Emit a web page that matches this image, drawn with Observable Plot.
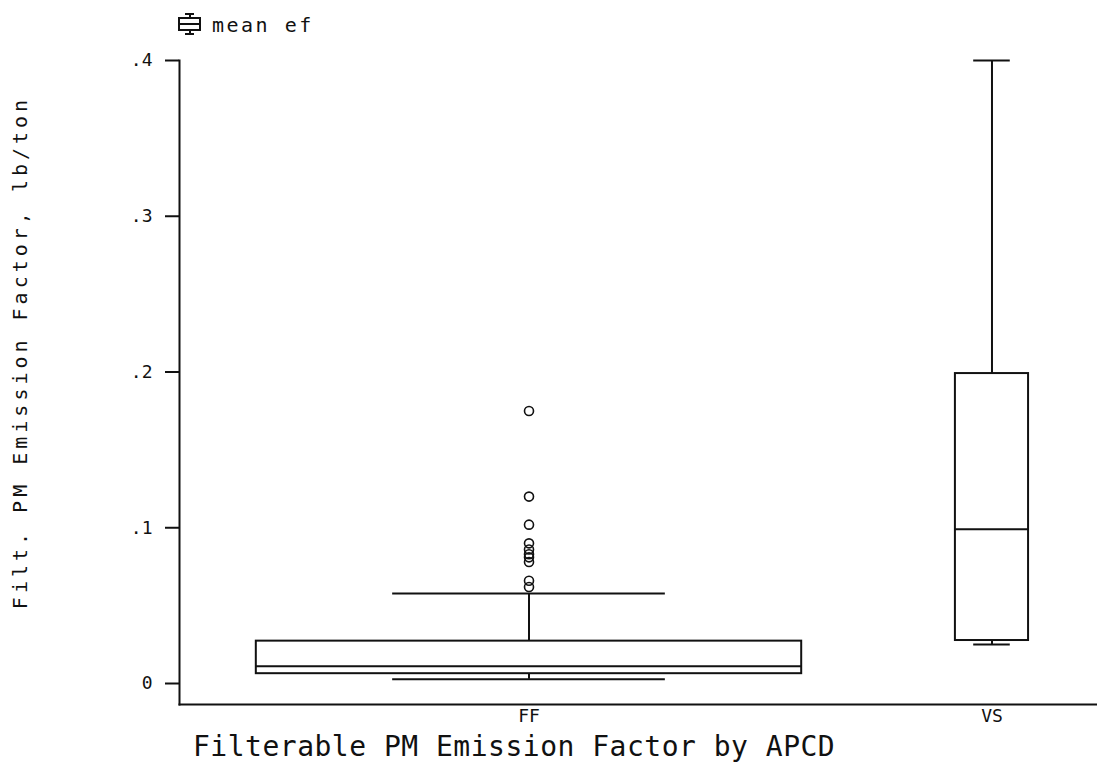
<!DOCTYPE html>
<html>
<head>
<meta charset="utf-8">
<script src="https://cdn.jsdelivr.net/npm/d3@7"></script>
<script src="https://cdn.jsdelivr.net/npm/@observablehq/plot@0.6"></script>
<style>
  html, body { margin: 0; padding: 0; background: #fff; }
  #wrap { position: relative; width: 1097px; height: 772px; font-family: "DejaVu Sans Mono", monospace; color: #111; }
  #legend { position: absolute; left: 178px; top: 12px; height: 26px; display: flex; align-items: flex-start; }
  #legend span { position: absolute; left: 34px; top: 3px; font-size: 20px; line-height: 20px; letter-spacing: 2.5px; white-space: nowrap; }
  #chart { position: absolute; left: 0; top: 45px; }
  #chart svg { overflow: visible; }
  #title { position: absolute; left: 193px; top: 733px; font-size: 28px; line-height: 28px; letter-spacing: 0.5px; white-space: nowrap; }
</style>
</head>
<body>
<div id="wrap">
  <div id="legend">
    <svg width="24" height="26" viewBox="0 0 24 26">
      <g stroke="#111" stroke-width="2" fill="none" shape-rendering="crispEdges">
        <line x1="7" y1="2" x2="16" y2="2"/>
        <line x1="11.5" y1="2" x2="11.5" y2="6"/>
        <rect x="1" y="6" width="21" height="12"/>
        <line x1="1" y1="12" x2="22" y2="12"/>
        <line x1="11.5" y1="18" x2="11.5" y2="22"/>
        <line x1="7" y1="22" x2="16" y2="22"/>
      </g>
    </svg>
    <span id="legendText"></span>
  </div>
  <div id="chart"></div>
  <div id="title"></div>
</div>
<script>
// ---- data ----
const categories = ["FF", "VS"];
const whiskerLow  = [0.0027, 0.025];
const quartile1   = [0.0063, 0.0276];
const medians     = [0.0111, 0.099];
const quartile3   = [0.0272, 0.199];
const whiskerHigh = [0.0578, 0.400];
const outlierCategory = ["FF", "FF", "FF", "FF", "FF", "FF", "FF", "FF", "FF", "FF"];
const outlierValues   = [0.175, 0.120, 0.102, 0.090, 0.086, 0.083, 0.081, 0.078, 0.066, 0.062];
const yTicks = [0, 0.1, 0.2, 0.3, 0.4];
const yTickLabels = ["0", ".1", ".2", ".3", ".4"];
const legendLabel = "mean ef";
const yLabel = "Filt. PM Emission Factor, lb/ton";
const titleText = "Filterable PM Emission Factor by APCD";

// ---- styles (box half-widths in category-index units) ----
const boxHalfWidth = [0.589, 0.079];
const ink = "#111";
const font = "DejaVu Sans Mono";

const rows = categories.map((c, i) => ({
  cat: c, idx: i,
  lo: whiskerLow[i], q1: quartile1[i], med: medians[i], q3: quartile3[i], hi: whiskerHigh[i],
  hw: boxHalfWidth[i]
}));
const outliers = outlierValues.map((v, i) => ({idx: categories.indexOf(outlierCategory[i]), value: v}));

document.getElementById("legendText").textContent = legendLabel;
document.getElementById("title").textContent = titleText;

const chart = Plot.plot({
  width: 1097,
  height: 683,
  marginTop: 15,
  marginBottom: 24,
  marginLeft: 179,
  marginRight: 0,
  style: {fontFamily: font, background: "white", color: ink, overflow: "visible"},
  x: {type: "linear", domain: [-0.7549, 1.2279]},
  y: {domain: [-0.01348, 0.4]},
  marks: [
    Plot.frame({anchor: "left", stroke: ink, strokeWidth: 2}),
    Plot.frame({anchor: "bottom", stroke: ink, strokeWidth: 2}),
    Plot.axisY({
      ticks: yTicks,
      tickFormat: (d) => yTickLabels[yTicks.indexOf(d)],
      tickSize: 14,
      tickPadding: 13,
      strokeWidth: 2,
      fontSize: 18,
      label: null
    }),
    Plot.axisX({
      ticks: categories.map((c, i) => i),
      tickFormat: (i) => categories[i],
      tickSize: 0,
      tickPadding: 5,
      fontSize: 18,
      label: null
    }),
    Plot.text([yLabel], {
      frameAnchor: "left", text: (d) => d, rotate: -90,
      textAnchor: "middle", lineAnchor: "middle",
      dx: -159, dy: -30, fontSize: 20, fill: ink
    }),
    // whiskers
    Plot.ruleX(rows, {x: "idx", y1: "q3", y2: "hi", stroke: ink, strokeWidth: 2}),
    Plot.ruleX(rows, {x: "idx", y1: "lo", y2: "q1", stroke: ink, strokeWidth: 2}),
    // caps
    Plot.ruleY(rows, {y: "hi", x1: (d) => d.idx - d.hw / 2, x2: (d) => d.idx + d.hw / 2, stroke: ink, strokeWidth: 2}),
    Plot.ruleY(rows, {y: "lo", x1: (d) => d.idx - d.hw / 2, x2: (d) => d.idx + d.hw / 2, stroke: ink, strokeWidth: 2}),
    // boxes
    Plot.rect(rows, {x1: (d) => d.idx - d.hw, x2: (d) => d.idx + d.hw, y1: "q1", y2: "q3", fill: "white", stroke: ink, strokeWidth: 2}),
    Plot.ruleY(rows, {y: "med", x1: (d) => d.idx - d.hw, x2: (d) => d.idx + d.hw, stroke: ink, strokeWidth: 2}),
    // outliers
    Plot.dot(outliers, {x: "idx", y: "value", r: 4.5, stroke: ink, strokeWidth: 1.6, fill: "none"})
  ]
});
// wider letter spacing for the rotated y label (Stata-like wide glyphs)
d3.select(chart).selectAll("text").filter(function () { return this.textContent === yLabel; })
  .style("letter-spacing", "4px");
document.getElementById("chart").appendChild(chart);
</script>
</body>
</html>
